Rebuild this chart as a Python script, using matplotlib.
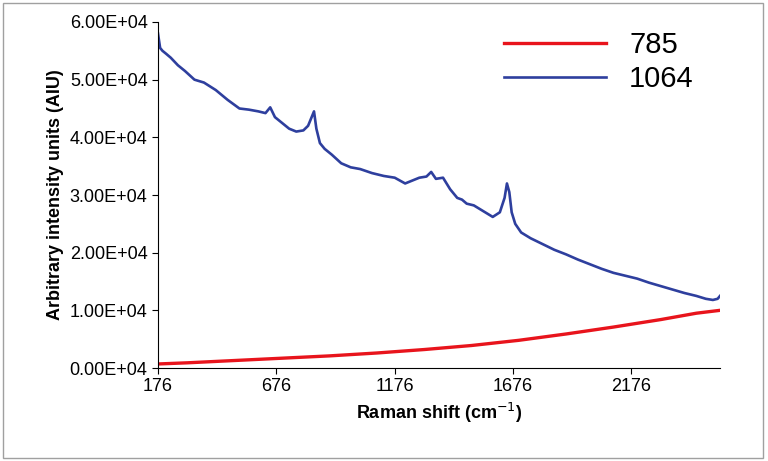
import matplotlib.pyplot as plt
from matplotlib.patches import Rectangle

plt.rcParams['font.family'] = ['Liberation Sans', 'DejaVu Sans']

# Raman spectra
shift_1064 = [176, 185, 195, 210, 230, 260, 290, 330, 370, 420, 470, 520, 560, 600, 630,
              650, 670, 700, 730, 760, 790, 810, 825, 835, 845, 860, 880, 910, 950,
              990, 1030, 1080, 1130, 1176, 1220, 1250, 1280, 1310, 1330, 1350, 1380,
              1410, 1440, 1460, 1480, 1510, 1550, 1590, 1620, 1640, 1650, 1660, 1670,
              1685, 1710, 1750, 1800, 1850, 1900, 1950, 2000, 2050, 2100, 2150, 2200,
              2250, 2300, 2350, 2400, 2450, 2490, 2520, 2540, 2550]
int_1064 = [5.80, 5.55, 5.50, 5.45, 5.38, 5.25, 5.15, 5.00, 4.95, 4.82, 4.65, 4.50,
            4.48, 4.45, 4.42, 4.52, 4.35, 4.25, 4.15, 4.10, 4.12, 4.20, 4.35, 4.45,
            4.15, 3.90, 3.80, 3.70, 3.55, 3.48, 3.45, 3.38, 3.33, 3.30, 3.20, 3.25,
            3.30, 3.32, 3.40, 3.28, 3.30, 3.10, 2.95, 2.92, 2.85, 2.82, 2.72, 2.62,
            2.70, 2.95, 3.20, 3.05, 2.70, 2.50, 2.35, 2.25, 2.15, 2.05, 1.97, 1.88,
            1.80, 1.72, 1.65, 1.60, 1.55, 1.48, 1.42, 1.36, 1.30, 1.25, 1.20, 1.18,
            1.20, 1.25]

shift_785 = [176, 300, 500, 700, 900, 1100, 1300, 1500, 1700, 1900, 2100, 2300, 2450, 2550]
int_785 = [0.07, 0.09, 0.13, 0.17, 0.21, 0.26, 0.32, 0.39, 0.48, 0.59, 0.71, 0.84, 0.95, 1.00]

xticks = [176, 676, 1176, 1676, 2176]

fig = plt.figure(figsize=(7.68, 4.61), dpi=100)
fig.patches.append(Rectangle((0.004, 0.006), 0.99, 0.988, transform=fig.transFigure,
                             fill=False, edgecolor='#a0a0a0', linewidth=1))
ax = fig.add_axes([158 / 768, 1 - 368 / 461, (720 - 158) / 768, (368 - 22) / 461])

ax.plot(shift_785, [v * 1e4 for v in int_785], color='#e8141c', linewidth=2.4, label='785')
ax.plot(shift_1064, [v * 1e4 for v in int_1064], color='#2e3f9e', linewidth=1.9, label='1064')

ax.set_xlim(176, 2550)
ax.set_ylim(0, 6e4)
ax.set_xticks(xticks)
ax.set_yticks([i * 1e4 for i in range(7)])
ax.set_yticklabels(['%.2fE+04' % i for i in range(7)])
ax.tick_params(labelsize=13, direction='out', length=4)
for s in ['top', 'right']:
    ax.spines[s].set_visible(False)
ax.set_xlabel('Raman shift (cm$^{-1}$)', fontsize=13, fontweight='bold')
ax.set_ylabel('Arbitrary intensity units (AIU)', fontsize=13, fontweight='bold')
ax.legend(loc='upper right', fontsize=21, frameon=False, handlelength=3.5,
          bbox_to_anchor=(1.0, 1.05), labelspacing=0.2)

fig.savefig('out.png')
